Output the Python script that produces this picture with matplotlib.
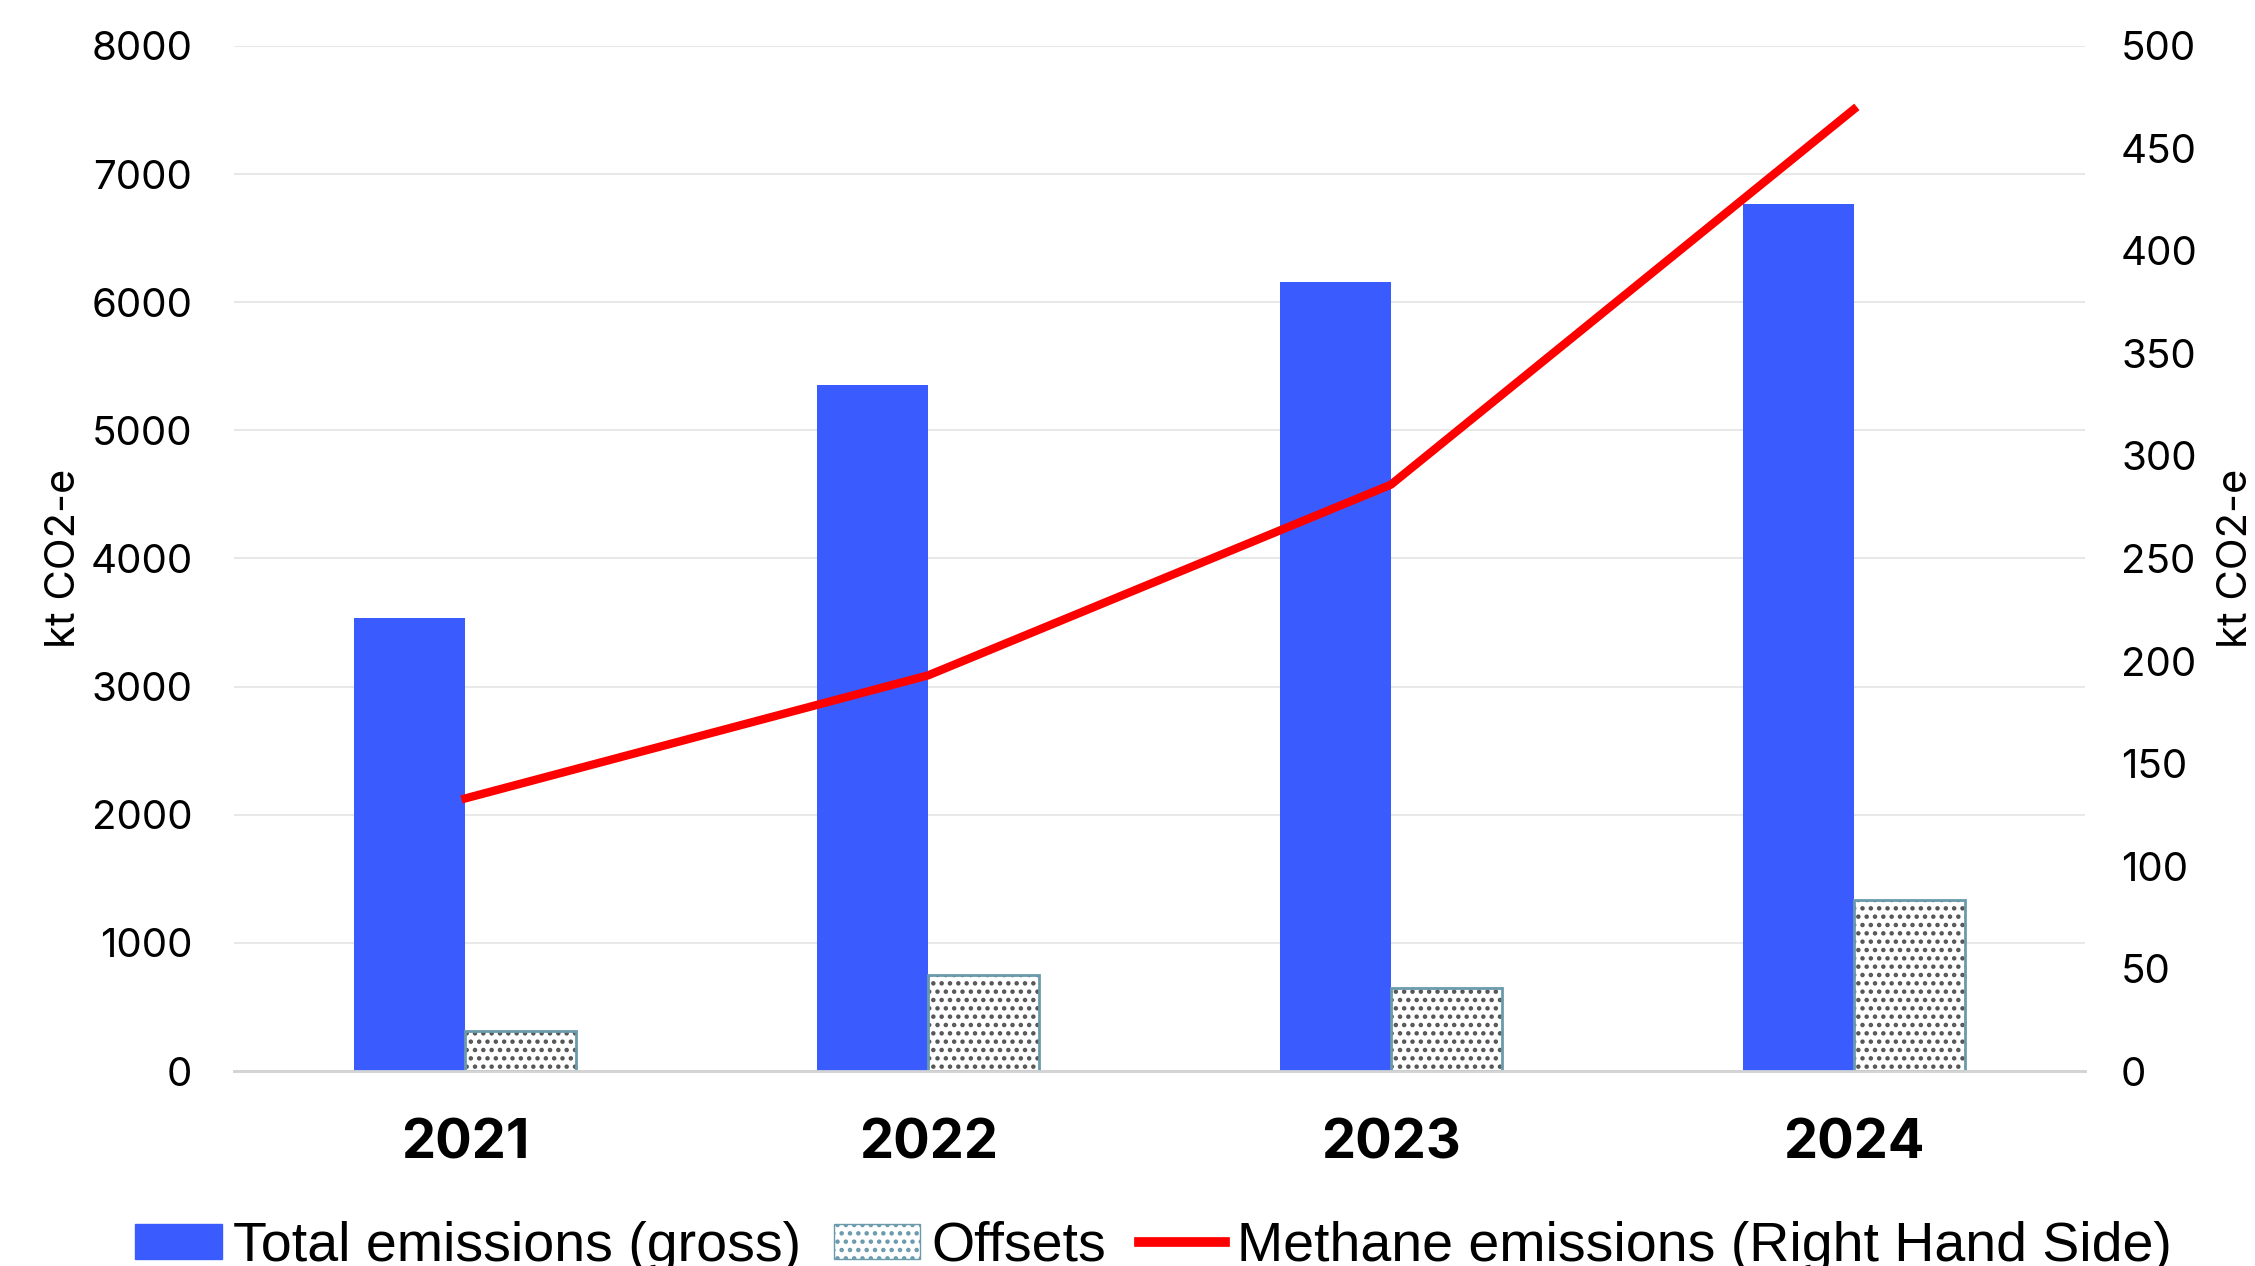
import matplotlib

matplotlib.use("Agg")

import matplotlib.pyplot as plt
import numpy as np
from matplotlib.lines import Line2D
from matplotlib.patches import Patch

years = ["2021", "2022", "2023", "2024"]
total_gross = [3535, 5355, 6160, 6765]
offsets = [315, 750, 650, 1335]
methane = [133, 193, 286, 469]

BLUE = "#3a5cff"
RED = "#ff0000"
plt.rcParams["font.family"] = ["Inter", "DejaVu Sans"]
plt.rcParams["hatch.linewidth"] = 2.0

fig = plt.figure(figsize=(22.55, 12.66), dpi=100)
ax = fig.add_axes([0.1038, 0.154, 0.8208, 0.8097])
ax2 = ax.twinx()

x = np.arange(len(years))
w = 0.24
ax.bar(x - w / 2, total_gross, width=w, color=BLUE, zorder=3)
ax.bar(x + w / 2, offsets, width=w, color="white", edgecolor="#555555",
       hatch="..", linewidth=0, zorder=3)
ax.bar(x + w / 2, offsets, width=w, fill=False, edgecolor="#6a9aac",
       linewidth=2, zorder=4)

ax2.plot(x, methane, color=RED, linewidth=6, zorder=5)

ax.set_xlim(-0.5, 3.5)
ax.set_ylim(0, 8000)
ax.set_yticks(range(0, 8001, 1000))
ax2.set_ylim(0, 500)
ax2.set_yticks(range(0, 501, 50))

ax.grid(True, axis="y", color="#e8e8e8", linewidth=1.5, zorder=0)
ax.set_axisbelow(True)
for a in (ax, ax2):
    for s in ("top", "left", "right"):
        a.spines[s].set_visible(False)
    a.spines["bottom"].set_color("#d4d4d4")
    a.spines["bottom"].set_linewidth(2)
    a.tick_params(length=0, labelsize=29)
ax.tick_params(axis="y", pad=30)
ax2.tick_params(axis="y", pad=26)

ax.set_xticks(x)
ax.set_xticklabels(years, fontsize=39, fontweight="bold")
ax.tick_params(axis="x", pad=34)

ax.set_ylabel("kt CO2-e", fontsize=30, labelpad=5)
ax2.set_ylabel("kt CO2-e", fontsize=30, labelpad=14)

handles = [
    Patch(facecolor=BLUE, edgecolor=BLUE),
    Patch(facecolor="white", edgecolor="#6a9aac", hatch=".."),
    Line2D([0], [0], color=RED, linewidth=7),
]
labels = ["Total emissions (gross)", "Offsets", "Methane emissions (Right Hand Side)"]
fig.legend(handles, labels, loc="lower center", bbox_to_anchor=(0.5115, -0.045),
           ncol=3, frameon=False, handlelength=1.55, handleheight=0.6,
           handletextpad=0.2, columnspacing=0.6,
           prop={"family": ["Liberation Sans", "DejaVu Sans"], "size": 40})

fig.savefig("out.png", dpi=100)
